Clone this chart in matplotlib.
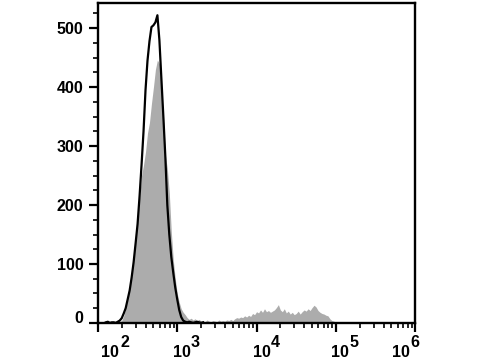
import numpy as np
import matplotlib
matplotlib.use('Agg')
import matplotlib.pyplot as plt
from matplotlib.ticker import MultipleLocator, LogLocator, NullFormatter

plt.rcParams['font.family'] = ['Liberation Sans', 'DejaVu Sans']
plt.rcParams['font.weight'] = 'bold'

# histogram bins: log10 of fluorescence, 0.025 decade steps starting at 10^2.1
log_start = 2.1
log_step = 0.025

# filled grey histogram (stained sample)
grey_counts = [0, 0, 0, 0,
               0, 0, 1, 2, 4, 12, 25, 42, 55, 85,
               112, 145, 175, 212, 250, 268, 290, 322, 340, 372,
               400, 430, 446, 440, 395, 355, 285, 262, 220, 155,
               107, 75, 50, 35, 24, 18, 14, 9, 6, 8,
               5, 7, 4, 6, 3, 4, 2, 5, 3, 2,
               4, 3, 2, 5, 3, 4, 3, 5, 4, 6,
               4, 7, 9, 8, 10, 9, 12, 10, 13, 11,
               16, 14, 19, 17, 22, 18, 24, 19, 21, 18,
               20, 22, 26, 31, 22, 19, 24, 17, 20, 15,
               18, 14, 16, 20, 15, 19, 22, 20, 24, 21,
               26, 30, 27, 21, 18, 16, 15, 13, 12, 7,
               4, 3, 1, 0]

# black outline histogram (control)
black_counts = [1, 2, 0, 1,
                1, 0, 2, 4, 8, 16, 25, 40, 55, 77,
                103, 135, 168, 215, 268, 325, 395, 445, 478, 502,
                505, 510, 522, 480, 415, 350, 282, 200, 150, 112,
                85, 60, 40, 22, 10, 4, 2, 1, 2, 1,
                0, 1, 2, 1, 0, 1]

y_ticks = [0, 100, 200, 300, 400, 500]
x_decades = [2, 3, 4, 5, 6]
# horizontal shifts (px) of the "10" and exponent parts of each x label
ten_shift = [12, 4.5, 5.5, 4.5, -14.5]
exp_shift = [27, 17.5, 19, 18.5, 0]

grey_x = 10 ** (log_start + log_step * np.arange(len(grey_counts)))
black_x = 10 ** (log_start + log_step * np.arange(len(black_counts)))

fig = plt.figure(figsize=(4.8, 3.6), dpi=100)
ax = fig.add_axes([0.204, 0.103, 0.661, 0.889])

ax.fill_between(grey_x, grey_counts, 0, color='#acacac', lw=0)
ax.plot(black_x, black_counts, color='black', lw=1.6)

ax.set_xscale('log')
ax.set_xlim(1e2, 1e6)
ax.set_ylim(0, 543)

for s in ax.spines.values():
    s.set_linewidth(1.7)

ax.set_yticks(y_ticks)
ax.yaxis.set_minor_locator(MultipleLocator(25))
ax.xaxis.set_major_locator(LogLocator(base=10))
ax.xaxis.set_minor_locator(LogLocator(base=10, subs=np.arange(2, 10)))
ax.xaxis.set_major_formatter(NullFormatter())
ax.xaxis.set_minor_formatter(NullFormatter())

ax.tick_params(axis='both', which='major', length=6.5, width=1.6, direction='out')
ax.tick_params(axis='both', which='minor', length=3.5, width=1.2, direction='out')
ax.tick_params(axis='y', labelsize=11.5, pad=4)
for lab in ax.get_yticklabels():
    lab.set_fontweight('bold')

# "0" label sits a bit above its tick in the original
ax.yaxis.get_major_ticks()[0].label1.set_va('baseline')

for d, ts, es in zip(x_decades, ten_shift, exp_shift):
    ax.annotate('10', xy=(10.0 ** d, 0), xycoords=('data', 'axes fraction'),
                xytext=(ts, -34), textcoords='offset pixels',
                ha='center', va='baseline', fontsize=11.5, fontweight='bold')
    ax.annotate(str(d), xy=(10.0 ** d, 0), xycoords=('data', 'axes fraction'),
                xytext=(es, -24), textcoords='offset pixels',
                ha='center', va='baseline', fontsize=11.5, fontweight='bold')

fig.savefig('out.png', dpi=100)
